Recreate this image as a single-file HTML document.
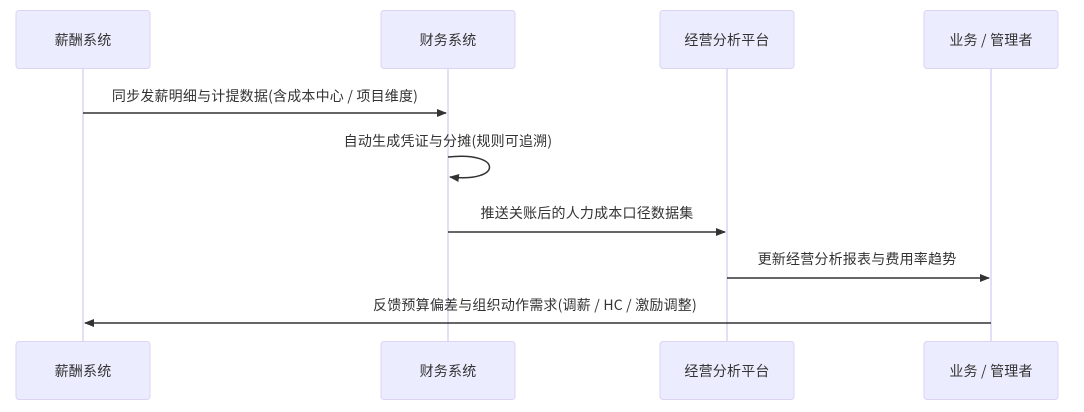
<!DOCTYPE html>
<html><head><meta charset="utf-8"><style>
html,body{margin:0;padding:0;background:#fff;width:1084px;height:412px;overflow:hidden}
svg text{font-family:"Noto Sans CJK SC","Liberation Sans",sans-serif;fill:#333}
</style></head><body>
<svg width="1084" height="412" viewBox="0 0 1084 412" xmlns="http://www.w3.org/2000/svg">
<defs>
<marker id="a" markerWidth="10" markerHeight="8" refX="9" refY="4" orient="auto" markerUnits="userSpaceOnUse"><path d="M0,0 L10,4 L0,8 z" fill="#333"/></marker>
</defs>
<g stroke="#ddd3f3" stroke-width="1.5">
<line x1="83" y1="69" x2="83" y2="342"/>
<line x1="448" y1="69" x2="448" y2="342"/>
<line x1="727" y1="69" x2="727" y2="342"/>
<line x1="991" y1="69" x2="991" y2="342"/>
</g>
<g fill="#ececff" stroke="#ddd3f3" stroke-width="1">
<rect x="16" y="10.5" width="134" height="58" rx="3"/>
<rect x="381" y="10.5" width="134" height="58" rx="3"/>
<rect x="660" y="10.5" width="134" height="58" rx="3"/>
<rect x="924" y="10.5" width="134" height="58" rx="3"/>
<rect x="16" y="341.5" width="134" height="58" rx="3"/>
<rect x="381" y="341.5" width="134" height="58" rx="3"/>
<rect x="660" y="341.5" width="134" height="58" rx="3"/>
<rect x="924" y="341.5" width="134" height="58" rx="3"/>
</g>
<g font-size="14" text-anchor="middle" letter-spacing="0.2">
<text x="83" y="45">薪酬系统</text>
<text x="448" y="45">财务系统</text>
<text x="727" y="45">经营分析平台</text>
<text x="991" y="45">业务 / 管理者</text>
<text x="83" y="376">薪酬系统</text>
<text x="448" y="376">财务系统</text>
<text x="727" y="376">经营分析平台</text>
<text x="991" y="376">业务 / 管理者</text>
<text x="265" y="101">同步发薪明细与计提数据(含成本中心 / 项目维度)</text>
<text x="448" y="146">自动生成凭证与分摊(规则可追溯)</text>
<text x="587" y="218">推送关账后的人力成本口径数据集</text>
<text x="857" y="264">更新经营分析报表与费用率趋势</text>
<text x="535" y="310">反馈预算偏差与组织动作需求(调薪 / HC / 激励调整)</text>
</g>
<g stroke="#333" stroke-width="1.5" fill="none">
<line x1="83" y1="113" x2="446" y2="113" marker-end="url(#a)"/>
<path d="M448,157 C503,151 503,183 450,177" marker-end="url(#a)"/>
<line x1="448" y1="232" x2="725" y2="232" marker-end="url(#a)"/>
<line x1="727" y1="278" x2="989" y2="278" marker-end="url(#a)"/>
<line x1="991" y1="323" x2="85" y2="323" marker-end="url(#a)"/>
</g>
</svg>
</body></html>
